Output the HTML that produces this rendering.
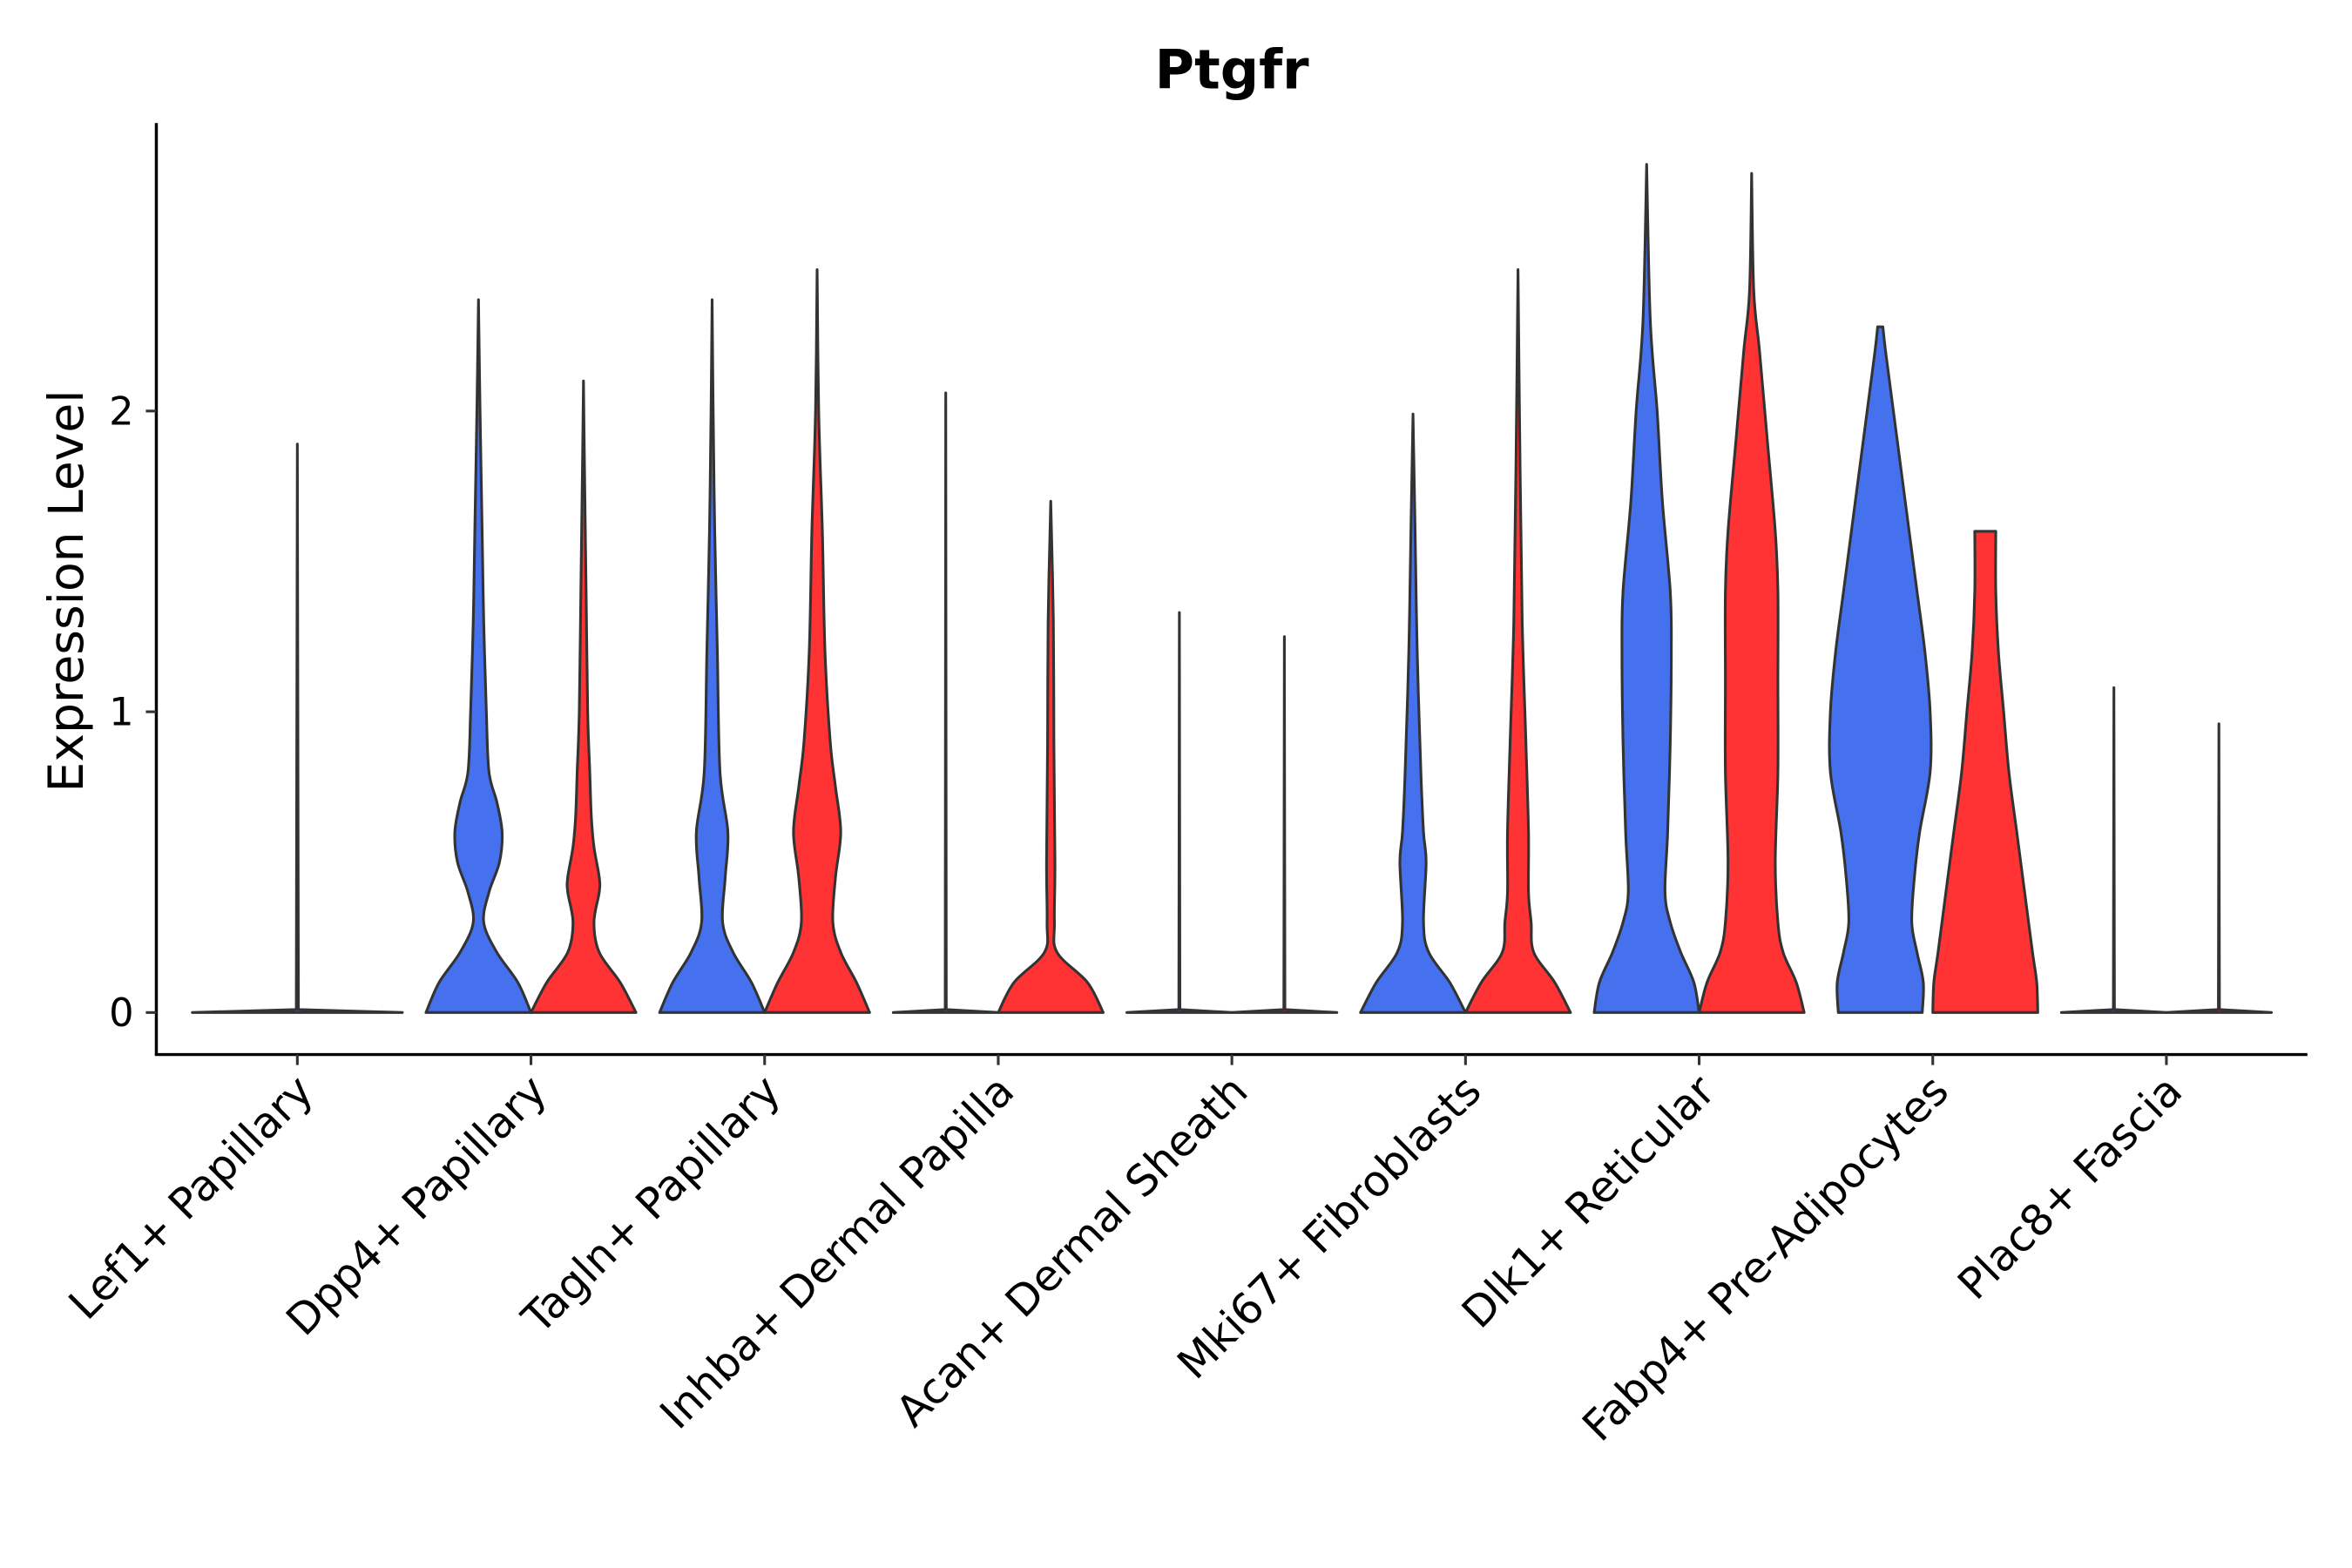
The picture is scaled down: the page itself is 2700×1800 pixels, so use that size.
<!DOCTYPE html>
<html><head><meta charset="utf-8"><style>
html,body{margin:0;padding:0;background:#fff}
svg{display:block}
text{font-family:"DejaVu Sans","Liberation Sans",sans-serif;fill:#000}
</style></head><body>
<svg id="chart" width="2700" height="1800" viewBox="0 0 1567.5 1045.3" xmlns="http://www.w3.org/2000/svg">
<rect x="0" y="0" width="1567.5" height="1045.3" fill="#fff"/>
<text x="821" y="59" text-anchor="middle" font-size="36" font-weight="bold">Ptgfr</text>
<text transform="translate(55,394) rotate(-90)" text-anchor="middle" font-size="32">Expression Level</text>
<g id="violins"></g>
<g id="axes"></g>
</svg>
<script>
const categories = ["Lef1+ Papillary","Dpp4+ Papillary","Tagln+ Papillary","Inhba+ Dermal Papilla","Acan+ Dermal Sheath","Mki67+ Fibroblasts","Dlk1+ Reticular","Fabp4+ Pre-Adipocytes","Plac8+ Fascia"];
const yTicks = [0,1,2];
const violinCat   = [0,1,1,2,2,3,3,4,4,5,5,6,6,7,7,8,8];
const violinGroup = [-1,0,1,0,1,0,1,0,1,0,1,0,1,0,1,0,1];
const violinLevels = [
 [0,0.01,1.89],
 [0,0.1,0.2,0.3,0.4,0.5,0.6,0.7,0.8,1.0,1.3,1.6,2.0,2.37],
 [0,0.1,0.2,0.3,0.4,0.45,0.55,0.65,0.8,1.0,1.4,1.8,2.1],
 [0,0.1,0.2,0.3,0.45,0.6,0.8,1.2,1.6,2.0,2.37],
 [0,0.1,0.2,0.3,0.45,0.6,0.75,0.9,1.2,1.6,2.0,2.47],
 [0,0.01,2.06],
 [0,0.1,0.2,0.3,0.5,0.9,1.3,1.7],
 [0,0.01,1.33],
 [0,0.01,1.25],
 [0,0.1,0.2,0.3,0.5,0.6,0.8,1.2,1.6,1.99],
 [0,0.1,0.2,0.3,0.4,0.6,0.9,1.3,1.8,2.47],
 [0,0.1,0.2,0.3,0.4,0.6,0.9,1.2,1.4,1.7,2.0,2.3,2.82],
 [0,0.1,0.2,0.3,0.5,0.8,1.1,1.4,1.6,1.9,2.2,2.4,2.79],
 [0,0.1,0.2,0.3,0.45,0.6,0.8,1.0,1.2,1.4,1.6,1.8,2.0,2.2,2.28],
 [0,0.1,0.2,0.4,0.6,0.8,1.0,1.2,1.4,1.6],
 [0,0.01,1.08],
 [0,0.01,0.96]
];
const violinWidths = [
 [1,0.01,0],
 [1,0.75,0.35,0.1,0.2,0.4,0.45,0.35,0.2,0.15,0.1,0.07,0.03,0],
 [1,0.7,0.3,0.2,0.3,0.3,0.2,0.15,0.12,0.08,0.05,0.02,0],
 [1,0.75,0.4,0.2,0.25,0.3,0.15,0.1,0.05,0.02,0],
 [1,0.75,0.45,0.3,0.35,0.45,0.35,0.25,0.15,0.1,0.03,0],
 [1,0.01,0],
 [1,0.7,0.12,0.07,0.08,0.06,0.05,0],
 [1,0.01,0],
 [1,0.01,0],
 [1,0.7,0.3,0.2,0.25,0.2,0.15,0.08,0.04,0],
 [1,0.7,0.3,0.25,0.2,0.2,0.15,0.08,0.04,0],
 [1,0.9,0.65,0.45,0.35,0.4,0.45,0.47,0.45,0.3,0.2,0.07,0],
 [1,0.85,0.6,0.5,0.45,0.5,0.5,0.5,0.45,0.3,0.15,0.04,0],
 [0.8,0.82,0.7,0.6,0.65,0.75,0.95,0.95,0.85,0.7,0.55,0.4,0.25,0.1,0.05],
 [1,0.98,0.9,0.75,0.6,0.45,0.35,0.25,0.2,0.2],
 [1,0.01,0],
 [1,0.01,0]
];
const colors = ["#4570EE","#FF3333"];
const X0=198, XSTEP=155.75, Y0=675, YUNIT=200.5, HALF=35;
const xPos = i => X0 + i*XSTEP;
const yPos = v => Y0 - v*YUNIT;
const NS="http://www.w3.org/2000/svg";
function smooth(pts){
  let d='';
  for(let i=0;i<pts.length-1;i++){
    const p0=pts[Math.max(0,i-1)],p1=pts[i],p2=pts[i+1],p3=pts[Math.min(pts.length-1,i+2)];
    let c1=[p1[0]+(p2[0]-p0[0])/6,p1[1]+(p2[1]-p0[1])/6];
    let c2=[p2[0]-(p3[0]-p1[0])/6,p2[1]-(p3[1]-p1[1])/6];
    // clamp control-point y to segment range to avoid overshoot below baseline
    const ylo=Math.min(p1[1],p2[1]), yhi=Math.max(p1[1],p2[1]);
    c1[1]=Math.min(yhi,Math.max(ylo,c1[1]));
    c2[1]=Math.min(yhi,Math.max(ylo,c2[1]));
    d+=` C${c1[0].toFixed(2)},${c1[1].toFixed(2)} ${c2[0].toFixed(2)},${c2[1].toFixed(2)} ${p2[0].toFixed(2)},${p2[1].toFixed(2)}`;
  }
  return d;
}
function straight(pts){
  return pts.slice(1).map(p=>' L'+p[0].toFixed(2)+','+p[1].toFixed(2)).join('');
}
const vg=document.getElementById('violins');
for(let k=0;k<violinCat.length;k++){
  const g=violinGroup[k];
  const cx = g<0 ? xPos(violinCat[k]) : xPos(violinCat[k]) + (g===0?-HALF:HALF);
  const hw = g<0 ? 2*HALF : HALF;
  const L=violinLevels[k], W=violinWidths[k];
  const left=[],right=[];
  for(let i=0;i<L.length;i++){
    left.push([cx-W[i]*hw,yPos(L[i])]);
    right.unshift([cx+W[i]*hw,yPos(L[i])]);
  }
  const f = L.length<=3 ? straight : smooth;
  const d='M'+left[0][0].toFixed(2)+','+left[0][1].toFixed(2)+f(left)+' L'+right[0][0].toFixed(2)+','+right[0][1].toFixed(2)+f(right)+' Z';
  const p=document.createElementNS(NS,'path');
  p.setAttribute('d',d);
  p.setAttribute('fill', g<0?colors[0]:colors[g]);
  p.setAttribute('stroke','#333');
  p.setAttribute('stroke-width','1.8');
  p.setAttribute('stroke-linejoin','round');
  
  
  vg.appendChild(p);
}
const ag=document.getElementById('axes');
function mk(tag,attrs){const e=document.createElementNS(NS,tag);for(const a in attrs)e.setAttribute(a,attrs[a]);ag.appendChild(e);return e;}
const yl=mk('line',{x1:104,y1:82,x2:104,y2:703,stroke:'#000','stroke-width':2});


const xl=mk('line',{x1:103,y1:703,x2:1538,y2:703,stroke:'#000','stroke-width':2});


yTicks.forEach(v=>{
  const t=mk('line',{x1:97,y1:yPos(v),x2:104,y2:yPos(v),stroke:'#333','stroke-width':1.8});
  
  
  const l=mk('text',{x:89,y:yPos(v)+9,'text-anchor':'end','font-size':26});
  l.textContent=v;
  
  
});
categories.forEach((c,i)=>{
  const x=xPos(i);
  const t=mk('line',{x1:x,y1:703,x2:x,y2:710,stroke:'#333','stroke-width':1.8});
  
  
  const l=mk('text',{transform:`translate(${x+12},${729}) rotate(-45)`,'text-anchor':'end','font-size':28.5});
  l.textContent=c;
  
  
});
</script>
</body></html>
